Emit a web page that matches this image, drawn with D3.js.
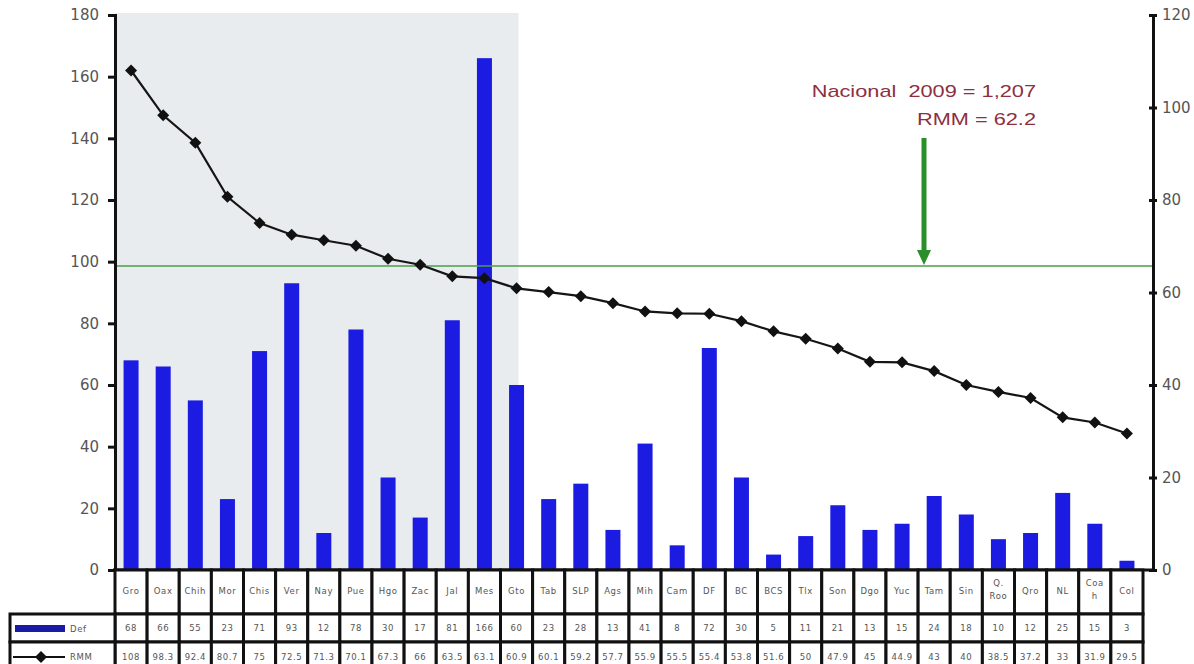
<!DOCTYPE html>
<html>
<head>
<meta charset="utf-8">
<script src="https://cdn.jsdelivr.net/npm/d3@7"></script>
<style>
  body { margin: 0; background: #fff; }
  svg { display: block; }
  .axis text { font-family: "DejaVu Sans", sans-serif; font-size: 15px; fill: #555; }
  .axis path, .axis line { stroke: #111; }
  .cell-text { font-family: "DejaVu Sans", sans-serif; font-size: 8.5px; fill: #555; letter-spacing: 0.6px; }
</style>
</head>
<body>
<div id="chart"></div>
<script>
// Data
var states = ["Gro","Oax","Chih","Mor","Chis","Ver","Nay","Pue","Hgo","Zac","Jal","Mes","Gto",
              "Tab","SLP","Ags","Mih","Cam","DF","BC","BCS","Tlx","Son","Dgo","Yuc","Tam",
              "Sin","Q.\nRoo","Qro","NL","Coa\nh","Col"];
var defValues = [68,66,55,23,71,93,12,78,30,17,81,166,60,23,28,13,41,8,72,30,5,11,21,13,15,24,18,10,12,25,15,3];
var rmmValues = [108,98.3,92.4,80.7,75,72.5,71.3,70.1,67.3,66,63.5,63.1,60.9,60.1,59.2,57.7,55.9,55.5,55.4,53.8,51.6,50,47.9,45,44.9,43,40,38.5,37.2,33,31.9,29.5];
var leftTicks = [0,20,40,60,80,100,120,140,160,180];
var rightTicks = [0,20,40,60,80,100,120];
var shadedUntil = "Gto";      // last state of the shaded block
var refLineValue = 98.6;      // green line, on the left scale
var noteLines = ["Nacional  2009 = 1,207", "RMM = 62.2"];

var width = 1194,
    height = 664;

var svg = d3.select("#chart").append("svg")
    .attr("width", width)
    .attr("height", height);

var x = d3.scaleBand()
    .domain(states)
    .range([115, 1143])
    .padding(0);

var yLeft = d3.scaleLinear().domain([0, 180]).range([570, 15]);
var yRight = d3.scaleLinear().domain([0, 120]).range([570, 15]);

var barW = 15;

// shaded block
svg.append("rect")
    .attr("x", 115)
    .attr("y", 13)
    .attr("width", x(shadedUntil) + x.bandwidth() / 2 + 2 - 115)
    .attr("height", 570 - 13)
    .attr("fill", "#e8ecee");

// bars
svg.selectAll(".bar")
    .data(defValues)
    .enter().append("rect")
    .attr("class", "bar")
    .attr("x", function(d, i) { return x(states[i]) + x.bandwidth() / 2 - barW / 2; })
    .attr("y", function(d) { return yLeft(d); })
    .attr("width", barW)
    .attr("height", function(d) { return 570 - yLeft(d); })
    .attr("fill", "#1b1be2");

// green reference line
svg.append("line")
    .attr("x1", 115)
    .attr("x2", 1152)
    .attr("y1", yLeft(refLineValue))
    .attr("y2", yLeft(refLineValue))
    .attr("stroke", "#4c9c4c")
    .attr("stroke-width", 1.5);

// RMM line
var line = d3.line()
    .x(function(d, i) { return x(states[i]) + x.bandwidth() / 2; })
    .y(function(d) { return yRight(d); });

svg.append("path")
    .datum(rmmValues)
    .attr("d", line)
    .attr("fill", "none")
    .attr("stroke", "#151515")
    .attr("stroke-width", 2.2);

var diamond = d3.symbol().type(d3.symbolSquare).size(72);

svg.selectAll(".marker")
    .data(rmmValues)
    .enter().append("path")
    .attr("class", "marker")
    .attr("d", diamond)
    .attr("transform", function(d, i) {
      return "translate(" + (x(states[i]) + x.bandwidth() / 2) + "," + yRight(d) + ") rotate(45)";
    })
    .attr("fill", "#111");

// axes
var leftAxis = svg.append("g")
    .attr("class", "axis")
    .attr("transform", "translate(115,0)")
    .call(d3.axisLeft(yLeft).tickValues(leftTicks).tickSize(7).tickPadding(9));

var rightAxis = svg.append("g")
    .attr("class", "axis")
    .attr("transform", "translate(1153,0)")
    .call(d3.axisRight(yRight).tickValues(rightTicks).tickSize(4).tickPadding(5));

[leftAxis, rightAxis].forEach(function(g) {
  g.select(".domain").attr("stroke-width", 3);
  g.selectAll(".tick line").attr("stroke-width", 3);
});
rightAxis.selectAll(".tick line").attr("x1", -4);

// x axis base line
svg.append("line")
    .attr("x1", 113)
    .attr("x2", 1155)
    .attr("y1", 570)
    .attr("y2", 570)
    .attr("stroke", "#111")
    .attr("stroke-width", 3);

// annotation (the source picture is stretched sideways, so the text is too)
var note = svg.append("g")
    .attr("transform", "translate(1036,0) scale(1.28,1)")
    .attr("font-family", "Liberation Sans, sans-serif")
    .attr("font-size", 17)
    .attr("fill", "#8e2f3f")
    .attr("text-anchor", "end");

note.selectAll("text")
    .data(noteLines)
    .enter().append("text")
    .attr("x", 0)
    .attr("y", function(d, i) { return 97 + i * 28; })
    .style("white-space", "pre")
    .text(function(d) { return d; });

// arrow
svg.append("line")
    .attr("x1", 924)
    .attr("x2", 924)
    .attr("y1", 138)
    .attr("y2", 252)
    .attr("stroke", "#2a8e2a")
    .attr("stroke-width", 5);

svg.append("path")
    .attr("d", "M917,250 L931,250 L924,265 Z")
    .attr("fill", "#2a8e2a");

// data table
var rows = [
  { y0: 570, y1: 614 },
  { y0: 614, y1: 642 },
  { y0: 642, y1: 672 }
];

var table = svg.append("g");

rows.forEach(function(r, ri) {
  table.selectAll(".cell-" + ri)
      .data(states)
      .enter().append("rect")
      .attr("x", function(d) { return x(d); })
      .attr("y", r.y0)
      .attr("width", x.bandwidth())
      .attr("height", r.y1 - r.y0)
      .attr("fill", "#fff")
      .attr("stroke", "#111")
      .attr("stroke-width", 3);
  if (ri > 0) {
    table.append("rect")
        .attr("x", 10)
        .attr("y", r.y0)
        .attr("width", 105)
        .attr("height", r.y1 - r.y0)
        .attr("fill", "#fff")
        .attr("stroke", "#111")
        .attr("stroke-width", 3);
  }
});

// header labels
states.forEach(function(s) {
  var parts = s.split("\n");
  var t = table.append("text")
      .attr("class", "cell-text")
      .attr("text-anchor", "middle")
      .attr("x", x(s) + x.bandwidth() / 2)
      .attr("y", parts.length > 1 ? 586 : 594);
  parts.forEach(function(p, k) {
    t.append("tspan")
        .attr("x", x(s) + x.bandwidth() / 2)
        .attr("dy", k == 0 ? 0 : 13)
        .text(p);
  });
});

table.selectAll(".def-label")
    .data(defValues)
    .enter().append("text")
    .attr("class", "cell-text")
    .attr("text-anchor", "middle")
    .attr("x", function(d, i) { return x(states[i]) + x.bandwidth() / 2; })
    .attr("y", 631)
    .text(function(d) { return d; });

table.selectAll(".rmm-label")
    .data(rmmValues)
    .enter().append("text")
    .attr("class", "cell-text")
    .attr("text-anchor", "middle")
    .attr("x", function(d, i) { return x(states[i]) + x.bandwidth() / 2; })
    .attr("y", 660)
    .text(function(d) { return d; });

// legend keys inside the table
table.append("rect")
    .attr("x", 15)
    .attr("y", 625)
    .attr("width", 50)
    .attr("height", 7)
    .attr("fill", "#1a1aa6");

table.append("text")
    .attr("class", "cell-text")
    .attr("x", 70)
    .attr("y", 632)
    .text("Def");

table.append("line")
    .attr("x1", 13)
    .attr("x2", 65)
    .attr("y1", 657)
    .attr("y2", 657)
    .attr("stroke", "#111")
    .attr("stroke-width", 2);

table.append("path")
    .attr("d", diamond)
    .attr("transform", "translate(41,657) rotate(45)")
    .attr("fill", "#111");

table.append("text")
    .attr("class", "cell-text")
    .attr("x", 70)
    .attr("y", 660)
    .text("RMM");
</script>
</body>
</html>
